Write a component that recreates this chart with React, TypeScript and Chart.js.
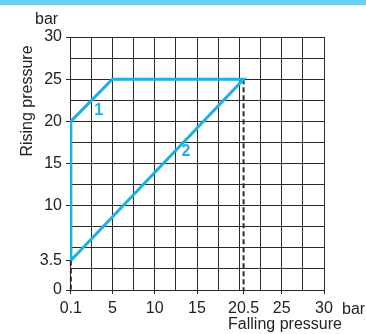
import React, { useEffect, useRef } from "react";
import { Chart, registerables } from "chart.js";

Chart.register(...registerables);

// ---- data ----
const curveX = [0.1, 0.1, 5, 20.5, 0.1];
const curveY = [3.5, 20, 25, 25, 3.5];

const dash1X = [0.1, 0.1];
const dash1Y = [3.5, 0];
const dash2X = [20.5, 20.5];
const dash2Y = [25, 0];

const xGridValues = [0, 2.5, 5, 7.5, 10, 12.5, 15, 17.5, 20, 22.5, 25, 27.5, 30];
const yGridValues = [0, 2.5, 5, 7.5, 10, 12.5, 15, 17.5, 20, 22.5, 25, 27.5, 30];
const xTickValues = [0.1, 5, 10, 15, 20.5, 25, 30];
const xTickLabels = ["0.1", "5", "10", "15", "20.5", "25", "30"];
const yTickValues = [0, 3.5, 10, 15, 20, 25, 30];
const yTickLabels = ["0", "3.5", "10", "15", "20", "25", "30"];

const curveLabels = ["1", "2"];
const curveLabelX = [3.4, 13.7];
const curveLabelY = [21.3, 16.4];

// ---- styles ----
const BLUE = "#1cb0e6";
const BANNER = "#6dcff6";
const GRID = "#2a2a2a";
const TEXT = "#222222";
const FONT = "'Liberation Sans', Arial, Helvetica, sans-serif";

const merge = (a: number[], b: number[]) =>
  Array.from(new Set([...a, ...b])).sort((p, q) => p - q);

const textPlugin = {
  id: "texts",
  beforeDraw(chart: any) {
    const c = chart.ctx;
    c.save();
    c.fillStyle = BANNER;
    c.fillRect(0, 0, chart.width, 5);
    c.restore();
  },
  afterDraw(chart: any) {
    const c = chart.ctx;
    const xs = chart.scales.x;
    const ys = chart.scales.y;
    c.save();
    c.fillStyle = TEXT;
    c.font = `16px ${FONT}`;
    c.textBaseline = "alphabetic";
    c.textAlign = "left";
    c.fillText("bar", 35, 24);
    c.fillText("bar", 342, 314);
    c.textAlign = "center";
    c.fillText("Falling pressure", 285, 329);
    c.save();
    c.translate(32, 101);
    c.rotate(-Math.PI / 2);
    c.fillText("Rising pressure", 0, 0);
    c.restore();
    c.fillStyle = BLUE;
    c.font = `bold 16px ${FONT}`;
    c.textBaseline = "middle";
    curveLabels.forEach((t, i) => {
      c.fillText(t, xs.getPixelForValue(curveLabelX[i]), ys.getPixelForValue(curveLabelY[i]));
    });
    c.restore();
  },
};

export default function App() {
  const ref = useRef<HTMLCanvasElement>(null);
  useEffect(() => {
    if (!ref.current) return;
    const xAll = merge(xGridValues, xTickValues);
    const yAll = merge(yGridValues, yTickValues);
    const chart = new Chart(ref.current, {
      type: "scatter",
      data: {
        datasets: [
          {
            data: curveX.map((x, i) => ({ x, y: curveY[i] })),
            showLine: true,
            borderColor: BLUE,
            borderWidth: 3,
            pointRadius: 0,
            tension: 0,
            borderJoinStyle: "miter",
          } as any,
          {
            data: dash1X.map((x, i) => ({ x, y: dash1Y[i] })),
            showLine: true,
            borderColor: GRID,
            borderWidth: 2,
            borderDash: [5, 3],
            pointRadius: 0,
            clip: false,
          },
          {
            data: dash2X.map((x, i) => ({ x, y: dash2Y[i] })),
            showLine: true,
            borderColor: GRID,
            borderWidth: 2,
            borderDash: [5, 3],
            pointRadius: 0,
            clip: false,
          },
        ],
      },
      options: {
        responsive: false,
        animation: false,
        events: [],
        layout: { padding: { top: 37, right: 42, left: 0, bottom: 0 } },
        plugins: { legend: { display: false }, tooltip: { enabled: false } },
        scales: {
          x: {
            type: "linear",
            min: 0,
            max: 30,
            afterBuildTicks: (axis: any) => {
              axis.ticks = xAll.map((v) => ({ value: v }));
            },
            afterFit: (axis: any) => {
              axis.height = 44;
            },
            grid: {
              color: (ctx: any) =>
                xGridValues.includes(ctx.tick?.value) ? GRID : "rgba(0,0,0,0)",
              tickColor: (ctx: any) =>
                xTickValues.includes(ctx.tick?.value) ? GRID : "rgba(0,0,0,0)",
              tickLength: 4,
              lineWidth: 1,
            },
            border: { display: true, color: GRID, width: 1 },
            ticks: {
              autoSkip: false,
              maxRotation: 0,
              minRotation: 0,
              padding: 5,
              color: TEXT,
              font: { family: FONT, size: 16 },
              callback: (v: any) => {
                const i = xTickValues.indexOf(Number(v));
                return i >= 0 ? xTickLabels[i] : "";
              },
            },
          },
          y: {
            type: "linear",
            min: 0,
            max: 30,
            afterBuildTicks: (axis: any) => {
              axis.ticks = yAll.map((v) => ({ value: v }));
            },
            afterFit: (axis: any) => {
              axis.width = 70;
            },
            grid: {
              color: (ctx: any) =>
                yGridValues.includes(ctx.tick?.value) ? GRID : "rgba(0,0,0,0)",
              tickColor: (ctx: any) =>
                yTickValues.includes(ctx.tick?.value) ? GRID : "rgba(0,0,0,0)",
              tickLength: 4,
              lineWidth: 1,
            },
            border: { display: true, color: GRID, width: 1 },
            ticks: {
              autoSkip: false,
              padding: 4,
              color: TEXT,
              font: { family: FONT, size: 16 },
              callback: (v: any) => {
                const i = yTickValues.indexOf(Number(v));
                return i >= 0 ? yTickLabels[i] : "";
              },
            },
          },
        },
      },
      plugins: [textPlugin],
    });
    return () => chart.destroy();
  }, []);
  return (
    <div style={{ position: "absolute", left: 0, top: 0, width: 366, height: 334, background: "#fff" }}>
      <canvas ref={ref} width={366} height={334} style={{ display: "block" }} />
    </div>
  );
}
